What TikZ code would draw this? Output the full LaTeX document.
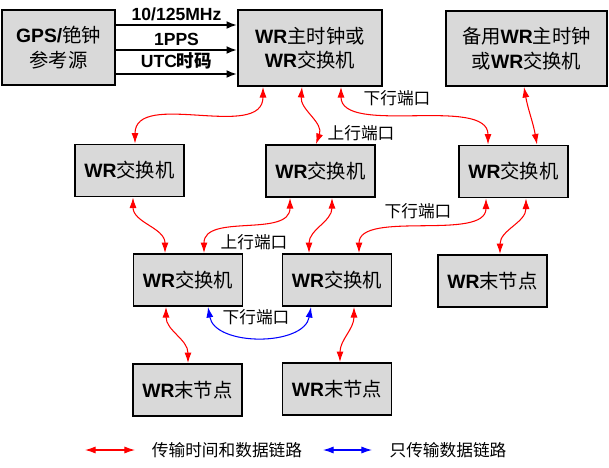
\documentclass[tikz,border=0pt]{standalone}
\usepackage{fontspec}
\setmainfont{Liberation Sans}
\newfontfamily\cjk{Noto Sans CJK SC}
\usepackage{xcolor}
\usetikzlibrary{arrows.meta}

\definecolor{boxgray}{RGB}{217,217,217}
\newcommand{\wrb}{\textbf{WR}}

\begin{document}
\begin{tikzpicture}[
    x=0.02cm, y=-0.02cm,
    every node/.style={font=\fontsize{9.5}{11}\selectfont},
    box/.style={draw, line width=1.1pt, fill=boxgray, align=center, inner sep=0pt,
        minimum width=2.18cm, minimum height=1.04cm, font=\fontsize{11}{14}\selectfont},
    bigbox/.style={box, minimum width=2.9cm, minimum height=1.5cm},
    link/.style={{Latex[length=6pt,width=4pt]}-{Latex[length=6pt,width=4pt]}, red, semithick},
    datalink/.style={link, blue},
    sig/.style={-{Latex[length=6pt,width=4.5pt]}, line width=1.1pt},
    port/.style={font=\cjk\fontsize{9.5}{11}\selectfont, inner sep=1pt},
    sigtext/.style={font=\bfseries\fontsize{10}{12}\selectfont, inner sep=1pt}
]
\useasboundingbox (0,0) rectangle (609,467);

\node[bigbox, minimum width=2.26cm] (gps) at (58.5,47.5) {\textbf{GPS/}{\cjk 铯钟}\\{\cjk 参考源}};
\node[bigbox, minimum width=2.88cm, minimum height=1.52cm] (mst) at (310,48) {\wrb{\cjk 主时钟或}\\\wrb{\cjk 交换机}};
\node[bigbox, minimum width=3.22cm] (bak) at (526.5,48.5) {{\cjk 备用}\wrb{\cjk 主时钟}\\{\cjk 或}\wrb{\cjk 交换机}};

\node[box] (sw1) at (129.5,170.5) {\wrb{\cjk 交换机}};
\node[box] (sw2) at (320.5,171) {\wrb{\cjk 交换机}};
\node[box] (sw3) at (513.5,171.5) {\wrb{\cjk 交换机}};
\node[box] (sw4) at (188,280) {\wrb{\cjk 交换机}};
\node[box] (sw5) at (337,280) {\wrb{\cjk 交换机}};
\node[box] (en1) at (492.5,281) {\wrb{\cjk 末节点}};
\node[box] (en2) at (187.5,390) {\wrb{\cjk 末节点}};
\node[box] (en3) at (337,389) {\wrb{\cjk 末节点}};

\draw[sig] ([yshift=0.45cm]gps.east) -- node[sigtext, above=1pt] (clk) {10/125MHz} ([yshift=0.45cm]gps.east -| mst.west);
\draw[sig] ([yshift=-0.05cm]gps.east) -- node[sigtext, above=1pt] (pps) {1PPS} ([yshift=-0.05cm]gps.east -| mst.west);
\draw[sig] ([yshift=-0.53cm]gps.east) -- node[sigtext, above=1pt] (utc) {UTC{\cjk 时码}} ([yshift=-0.53cm]gps.east -| mst.west);

\draw[link] ([xshift=-0.94cm]mst.south) to[out=-90, in=90] ([xshift=0.11cm]sw1.north);
\draw[link] ([xshift=-0.16cm]mst.south) to[out=-95, in=70] ([xshift=-0.09cm]sw2.north);
\draw[link] ([xshift=0.62cm]mst.south) to[out=-90, in=90, looseness=0.8] ([xshift=-0.51cm]sw3.north);
\draw[link] ([xshift=-0.05cm]bak.south) to[out=-80, in=100] ([xshift=0.47cm]sw3.north);

\draw[link] ([xshift=0.07cm]sw1.south) to[out=-90, in=90] ([xshift=-0.46cm]sw4.north);
\draw[link] ([xshift=-0.61cm]sw2.south) to[out=-90, in=90] ([xshift=0.32cm]sw4.north);
\draw[link] ([xshift=0.23cm]sw2.south) to[out=-90, in=90] ([xshift=-0.56cm]sw5.north);
\draw[link] ([xshift=-0.55cm]sw3.south) to[out=-90, in=90, looseness=0.8] ([xshift=0.44cm]sw5.north);
\draw[link] ([xshift=0.25cm]sw3.south) to[out=-90, in=90] ([xshift=0.15cm]en1.north);

\draw[link] ([xshift=-0.44cm]sw4.south) to[out=-90, in=90] ([xshift=0.01cm]en2.north);
\draw[link] ([xshift=0.34cm]sw5.south) to[out=-90, in=90] ([xshift=0.06cm]en3.north);
\draw[datalink] ([xshift=0.4cm]sw4.south) to[out=-80, in=-100] ([xshift=-0.52cm]sw5.south);

\node[port] (p1) at (397,98) {下行端口};
\node[port] (p2) at (361,133) {上行端口};
\node[port] (p3) at (254,242) {上行端口};
\node[port] (p4) at (418,211) {下行端口};
\node[port] (p5) at (256,317) {下行端口};

\coordinate (r1) at (85,450);
\coordinate (r2) at (135,450);
\coordinate (b1) at (323,450);
\coordinate (b2) at (372,450);
\draw[link] (r1) -- (r2);
\node[port] (t1) at (227,450) {传输时间和数据链路};
\draw[datalink] (b1) -- (b2);
\node[port] (t2) at (448,450) {只传输数据链路};
\end{tikzpicture}
\end{document}
